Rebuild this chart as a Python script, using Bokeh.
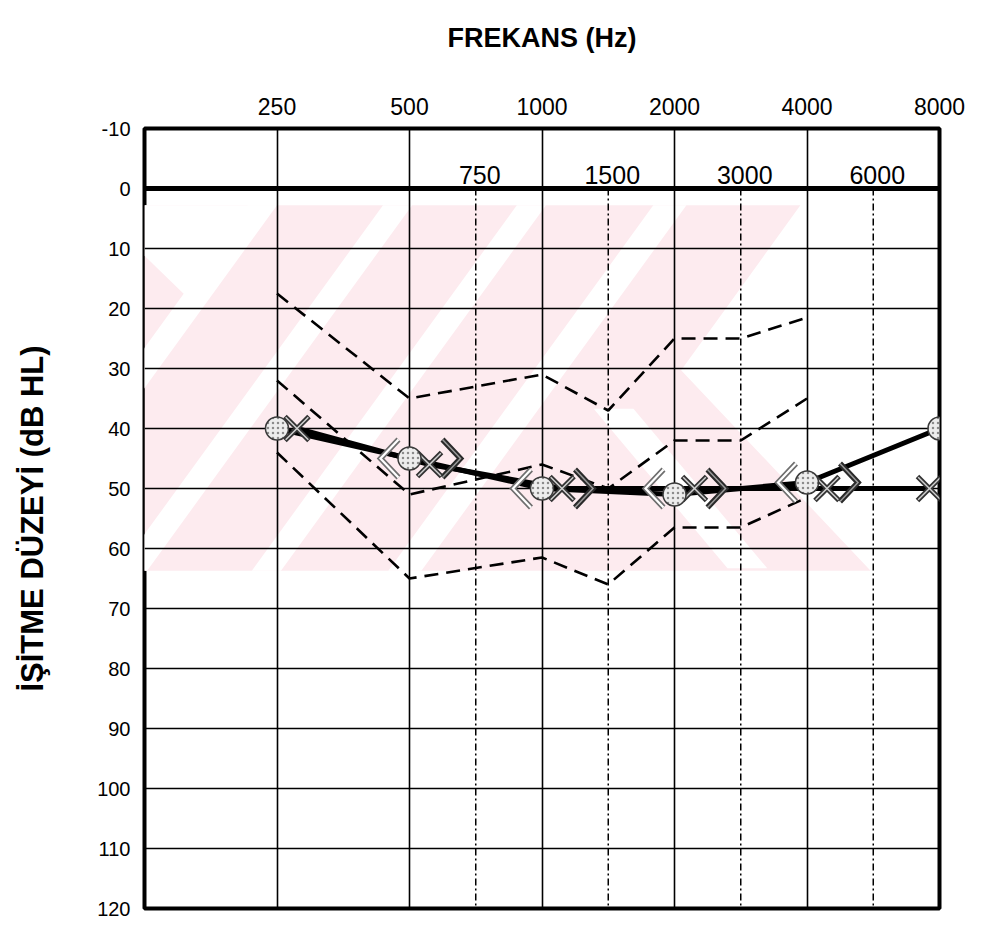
import math
from bokeh.plotting import figure
from bokeh.models import Range1d, FixedTicker, Span
from bokeh.core.properties import value
from bokeh.embed import file_html
from bokeh.resources import INLINE

# ---------------- data ----------------
OCTAVE_FREQS = [250, 500, 1000, 2000, 4000, 8000]
OCTAVE_LABELS = ["250", "500", "1000", "2000", "4000", "8000"]
MID_FREQS = [750, 1500, 3000, 6000]
MID_LABELS = ["750", "1500", "3000", "6000"]
DB_TICKS = [-10, 0, 10, 20, 30, 40, 50, 60, 70, 80, 90, 100, 110, 120]
DB_LABELS = ["-10", "0", "10", "20", "30", "40", "50", "60", "70", "80", "90", "100", "110", "120"]

AC_FREQS = [250, 500, 1000, 2000, 4000, 8000]
RIGHT_AC = [40, 45, 50, 51, 49, 40]      # circles
LEFT_AC = [40, 46, 50, 50, 50, 50]       # X
BC_FREQS = [500, 1000, 2000, 4000]
RIGHT_BC = [45, 50, 50, 49]              # <
LEFT_BC = [45, 50, 50, 49]               # >

BAND_FREQS = [250, 500, 1000, 1500, 2000, 3000, 4000]
BAND_UPPER = [17.5, 35, 31, 37, 25, 25, 21.5]
BAND_MID = [32, 51, 46, 50, 42, 42, 35]
BAND_LOWER = [44, 65, 61.5, 66, 56.5, 56.5, 51.5]

# watermark (decorative background, in axis units)
WM_PINK_X = [0, 4.95, 4.05, 5.48, 0]
WM_PINK_Y = [2.8, 2.8, 30.3, 63.7, 63.7]
WM_WHITE_XS = [[0.78, 1.00, -1.00, -1.22],
               [1.80, 2.02, 0.02, -0.20],
               [2.81, 3.03, 1.03, 0.81],
               [3.84, 4.09, 2.09, 1.84],
               [3.39, 3.69, 4.70, 4.40],
               [0, 1.0, 0.35, 0]]
WM_WHITE_YS = [[2.8, 2.8, 63.7, 63.7],
               [2.8, 2.8, 63.7, 63.7],
               [2.8, 2.8, 63.7, 63.7],
               [2.8, 2.8, 63.7, 63.7],
               [36.7, 36.7, 63.3, 63.3],
               [2.8, 2.8, 18.7, 11.2]]


def freq_pos(f):
    octs = math.log2(f / 125.0)
    base = math.floor(octs + 1e-9)
    return base + (0.0 if octs - base < 1e-6 else 0.5)


FRAME_W, FRAME_H = 795, 780
X0, X1 = 0, 6
Y_TOP, Y_BOT = -10, 120
PX_X = (X1 - X0) / FRAME_W          # axis units per pixel
PX_Y = (Y_BOT - Y_TOP) / FRAME_H

p = figure(width=986, height=925,
           x_range=Range1d(X0, X1), y_range=Range1d(Y_BOT, Y_TOP),
           x_axis_location="above", y_axis_location="left",
           output_backend="svg", toolbar_location=None,
           min_border_left=144, min_border_right=47,
           min_border_top=128, min_border_bottom=17)
p.background_fill_color = "white"
p.border_fill_color = "white"
p.outline_line_color = "black"
p.outline_line_width = 4

# watermark
p.patch(WM_PINK_X, WM_PINK_Y, fill_color="#fdebef", line_color=None, level="image")
p.patches(WM_WHITE_XS, WM_WHITE_YS, fill_color="white", line_color=None, level="image")

# grids
oct_pos = [freq_pos(f) for f in OCTAVE_FREQS]
p.xgrid.ticker = FixedTicker(ticks=oct_pos)
p.ygrid.ticker = FixedTicker(ticks=DB_TICKS)
for g in (p.xgrid[0], p.ygrid[0]):
    g.grid_line_color = "black"
    g.grid_line_width = 1.6
    g.grid_line_alpha = 1.0

p.add_layout(Span(location=0, dimension="width", line_color="black", line_width=5))

# top axis
xa = p.xaxis[0]
xa.ticker = FixedTicker(ticks=oct_pos)
xa.major_label_overrides = {pos: lab for pos, lab in zip(oct_pos, OCTAVE_LABELS)}
xa.axis_line_color = None
xa.major_tick_line_color = None
xa.minor_tick_line_color = None
xa.major_label_standoff = 8
xa.major_label_text_font = "Liberation Sans"
xa.major_label_text_font_size = "23px"
xa.major_label_text_color = "black"
xa.axis_label = "FREKANS (Hz)"
xa.axis_label_standoff = 42
xa.axis_label_text_font = "Liberation Sans"
xa.axis_label_text_font_style = "bold"
xa.axis_label_text_font_size = "27px"
xa.axis_label_text_color = "black"

# left axis
ya = p.yaxis[0]
ya.ticker = FixedTicker(ticks=DB_TICKS)
ya.major_label_overrides = {t: lab for t, lab in zip(DB_TICKS, DB_LABELS)}
ya.axis_line_color = None
ya.major_tick_line_color = None
ya.minor_tick_line_color = None
ya.major_label_standoff = 8
ya.major_label_text_font = "Liberation Sans"
ya.major_label_text_font_size = "20px"
ya.major_label_text_color = "black"
ya.axis_label = "İŞİTME DÜZEYİ (dB HL)"
ya.axis_label_standoff = 44
ya.axis_label_text_font = "Liberation Sans"
ya.axis_label_text_font_style = "bold"
ya.axis_label_text_font_size = "31px"
ya.axis_label_text_color = "black"

# half-octave dash-dot lines and their labels
mid_pos = [freq_pos(f) for f in MID_FREQS]
p.segment(x0=mid_pos, y0=[0] * len(mid_pos), x1=mid_pos, y1=[Y_BOT] * len(mid_pos),
          line_color="black", line_width=1.5, line_dash="7 3 2 3")
p.text(x=mid_pos, y=[0] * len(mid_pos), text=MID_LABELS,
       text_font=value("Liberation Sans"), text_font_size="25px",
       text_align="center", text_baseline="bottom", x_offset=4, y_offset=-5,
       text_color="black")

# normative dashed bands
band_pos = [freq_pos(f) for f in BAND_FREQS]
for band in (BAND_UPPER, BAND_MID, BAND_LOWER):
    p.line(band_pos, band, line_color="black", line_width=2.6, line_dash="14 8")

# air conduction
ac_pos = [freq_pos(f) for f in AC_FREQS]
x_left = [x + 20 * PX_X if x < X1 - 1e-6 else x - 10 * PX_X for x in ac_pos]
p.line(ac_pos, RIGHT_AC, line_color="black", line_width=5)
p.line(x_left, LEFT_AC, line_color="black", line_width=5)

# bone conduction chevrons
bc_pos = [freq_pos(f) for f in BC_FREQS]
hw, hh = 9 * PX_X, 19 * PX_Y


def chevrons(xs, ys, dx, pointing_left):
    out_x, out_y = [], []
    for x, y in zip(xs, ys):
        cx = x + dx
        if pointing_left:
            out_x.append([cx + hw, cx - hw, cx + hw])
        else:
            out_x.append([cx - hw, cx + hw, cx - hw])
        out_y.append([y - hh, y, y + hh])
    return out_x, out_y


lx, ly = chevrons(bc_pos, RIGHT_BC, -20 * PX_X, True)
p.multi_line(lx, ly, line_color="#6f6f6f", line_width=5.5, line_join="miter")
p.multi_line(lx, ly, line_color="white", line_width=2.2, line_join="miter")
rx, ry = chevrons(bc_pos, LEFT_BC, 42 * PX_X, False)
p.multi_line(rx, ry, line_color="#2a2a2a", line_width=5.5, line_join="miter")
p.multi_line(rx, ry, line_color="#9a9a9a", line_width=1.5, line_join="miter")

# markers
p.scatter(x_left, LEFT_AC, marker="x", size=34, line_color="#333333", line_width=5)
p.scatter(x_left, LEFT_AC, marker="x", size=32, line_color="#d0d0d0", line_width=1.5)
p.scatter(ac_pos, RIGHT_AC, marker="circle", size=23, fill_color="#ededed",
          line_color="#3a3a3a", line_width=1.5,
          hatch_pattern="dot", hatch_color="#8c8c8c", hatch_scale=5, hatch_weight=1)

open("out.html", "w").write(file_html(p, INLINE))
